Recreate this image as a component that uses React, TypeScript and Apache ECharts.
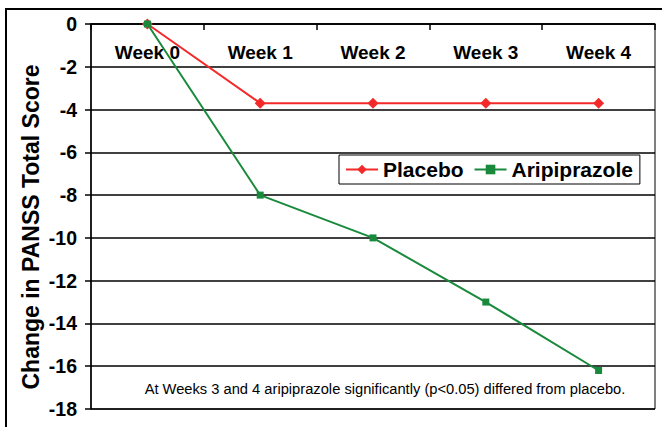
import React, { useEffect, useRef } from "react";
import * as echarts from "echarts";

const categories = ["Week 0", "Week 1", "Week 2", "Week 3", "Week 4"];
const placebo = [0, -3.7, -3.7, -3.7, -3.7];
const aripiprazole = [0, -8, -10, -13, -16.2];
const yTicks = { min: -18, max: 0, interval: 2 };
const yTitle = "Change in PANSS Total Score";
const note = "At Weeks 3 and 4 aripiprazole significantly (p<0.05) differed from placebo.";

export default function App() {
  const ref = useRef<HTMLDivElement>(null);
  useEffect(() => {
    if (!ref.current) return;
    const chart = echarts.init(ref.current, null, { renderer: "svg" });
    const font = "Arial, 'Liberation Sans', sans-serif";
    chart.setOption({
      animation: false,
      backgroundColor: "#ffffff",
      grid: {
        left: 91,
        top: 24,
        right: 7,
        bottom: 18,
        show: true,
        borderColor: "#000",
        borderWidth: 1,
      },
      legend: {
        left: 339,
        top: 155,
        orient: "horizontal",
        borderColor: "#000",
        borderWidth: 1,
        borderRadius: 0,
        padding: [4, 7, 4, 6],
        itemGap: 10,
        itemWidth: 32,
        itemHeight: 12,
        textStyle: { fontFamily: font, fontWeight: "bold", fontSize: 21, color: "#000" },
        data: ["Placebo", "Aripiprazole"],
      },
      xAxis: {
        type: "category",
        data: categories,
        position: "top",
        boundaryGap: true,
        axisLine: { show: true, lineStyle: { color: "#000", width: 1.5 } },
        axisTick: { show: true, inside: true, length: 6, lineStyle: { color: "#000", width: 1.5 } },
        axisLabel: {
          inside: true,
          margin: 19,
          fontFamily: font,
          fontWeight: "bold",
          fontSize: 19,
          color: "#000",
        },
        splitLine: { show: false },
      },
      yAxis: {
        type: "value",
        min: yTicks.min,
        max: yTicks.max,
        interval: yTicks.interval,
        axisLine: { show: true, lineStyle: { color: "#000", width: 1.5 } },
        axisTick: { show: true, length: 6, lineStyle: { color: "#000", width: 1.5 } },
        axisLabel: { fontFamily: font, fontWeight: "bold", fontSize: 19.5, color: "#000", margin: 14 },
        splitLine: { show: true, lineStyle: { color: "#000", width: 1.5 } },
      },
      series: [
        {
          name: "Placebo",
          type: "line",
          data: placebo,
          symbol: "diamond",
          symbolSize: 11,
          itemStyle: { color: "#f42a2a" },
          lineStyle: { color: "#f42a2a", width: 2 },
          z: 2,
        },
        {
          name: "Aripiprazole",
          type: "line",
          data: aripiprazole,
          symbol: "rect",
          symbolSize: 7,
          itemStyle: { color: "#198a3c" },
          lineStyle: { color: "#198a3c", width: 2 },
          z: 3,
        },
      ],
      graphic: [
        {
          type: "rect",
          shape: { x: 6, y: 9, width: 720, height: 500 },
          style: { fill: "none", stroke: "#000", lineWidth: 2 },
          silent: true,
          z: -1,
        },
        {
          type: "text",
          x: 31,
          y: 227,
          rotation: Math.PI / 2,
          style: {
            text: yTitle,
            fontFamily: font,
            fontWeight: "bold",
            fontSize: 23,
            fill: "#000",
            align: "center",
            verticalAlign: "middle",
          },
        },
        {
          type: "text",
          x: 385,
          y: 389,
          style: {
            text: note,
            fontFamily: font,
            fontSize: 14.7,
            fill: "#000",
            align: "center",
            verticalAlign: "middle",
          },
        },
      ],
    });
    return () => chart.dispose();
  }, []);
  return <div ref={ref} style={{ width: 662, height: 427, position: "absolute", left: 0, top: 0 }} />;
}
